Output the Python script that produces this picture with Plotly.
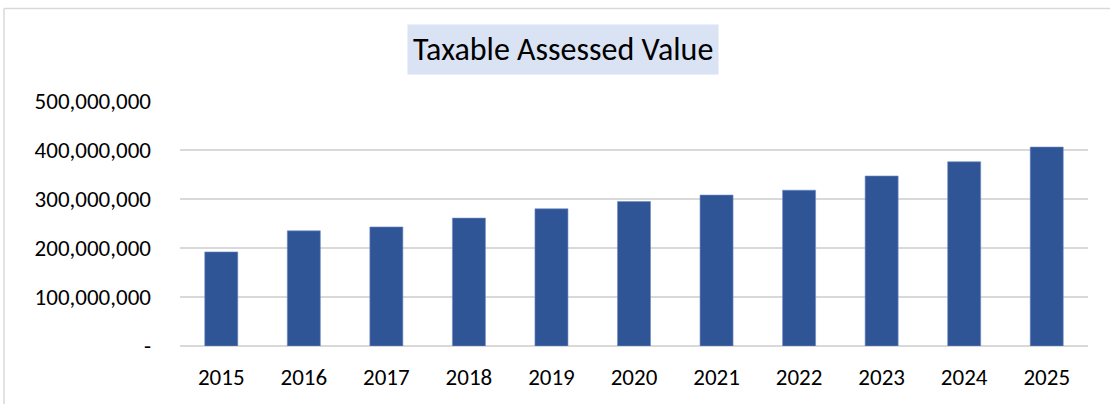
import plotly.graph_objects as go

years = ["2015", "2016", "2017", "2018", "2019", "2020", "2021", "2022", "2023", "2024", "2025"]
values = [192e6, 235e6, 243e6, 261e6, 280e6, 295e6, 308e6, 318e6, 347e6, 376e6, 406e6]
y_tickvals = [0, 100e6, 200e6, 300e6, 400e6, 500e6]
y_ticktext = ["-", "100,000,000", "200,000,000", "300,000,000", "400,000,000", "500,000,000"]
title_text = "Taxable Assessed Value"

W, H = 1110, 404
L, R, T, B = 180, 22, 101, 58
pw, ph = W - L - R, H - T - B

def px_x(p):
    return (p - L) / pw

def px_y(p):
    return (H - B - p) / ph

font_family = "Carlito, Lato, 'Open Sans', sans-serif"

fig = go.Figure(go.Bar(
    x=years, y=values,
    marker=dict(color="#2F5597", line=dict(color="#6f8cc4", width=0.6)),
    width=0.4,
))

fig.update_layout(
    width=W, height=H,
    margin=dict(l=L, r=R, t=T, b=B, autoexpand=False),
    paper_bgcolor="white", plot_bgcolor="white",
    font=dict(family=font_family, size=23, color="#000000"),
    showlegend=False,
    bargap=0.6,
)
fig.update_yaxes(
    range=[0, 500e6], tickvals=y_tickvals, ticktext=y_ticktext,
    showgrid=True, gridcolor="#d9d9d9", gridwidth=1.5,
    zeroline=True, zerolinecolor="#d9d9d9", zerolinewidth=1.5,
    showline=False, ticks="", ticklabelstandoff=28, automargin=False,
)
fig.update_xaxes(
    showgrid=False, showline=False, ticks="", ticklabelstandoff=15, automargin=False,
)
fig.add_annotation(
    text=title_text, xref="paper", yref="paper",
    x=px_x(563), y=px_y(50), xanchor="center", yanchor="middle",
    showarrow=False, font=dict(family=font_family, size=32, color="#000000"),
    bgcolor="#dae3f3", borderpad=5,
)
# chart frame
fig.add_shape(type="line", xref="paper", yref="paper",
              x0=px_x(4), x1=px_x(1112), y0=px_y(8.5), y1=px_y(8.5),
              line=dict(color="#d9d9d9", width=1.5))
fig.add_shape(type="line", xref="paper", yref="paper",
              x0=px_x(4), x1=px_x(4), y0=px_y(8.5), y1=px_y(406),
              line=dict(color="#d9d9d9", width=1.5))

fig.write_html("out.html", config={"displayModeBar": False},
               post_script="document.body.style.margin='0';document.body.style.overflow='hidden';")
